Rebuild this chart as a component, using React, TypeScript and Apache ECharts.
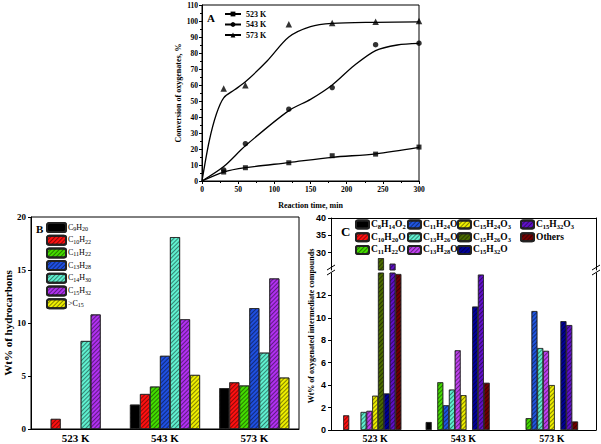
import React, { useEffect, useRef } from "react";
import * as echarts from "echarts";

// ---------- Panel A data ----------
const timePts = [30, 60, 120, 180, 240, 300];
const conv523 = [5.6, 8.3, 11.4, 15.8, 16.8, 21.2];
const conv543 = [6.9, 23.3, 44.9, 58.4, 85.2, 86.1];
const conv573 = [57.8, 59.9, 97.9, 98.8, 99.6, 100];
// fitted curves
const fit523T = [0, 30, 60, 120, 180, 240, 300];
const fit523 = [0, 5.6, 8.3, 11.5, 14.8, 17, 21];
const fit543T = [0, 30, 60, 120, 150, 180, 210, 240, 270, 300];
const fit543 = [0, 9, 22, 44, 51, 60, 72, 81.5, 85, 86];
const fit573T = [0, 10, 20, 30, 45, 60, 90, 120, 150, 180, 240, 300];
const fit573 = [0, 25, 42, 52, 57, 62, 75, 90, 96.5, 98.5, 99.2, 99.5];
const tempNames = ["523 K", "543 K", "573 K"];

// ---------- Panel B data ----------
const categories = ["523 K", "543 K", "573 K"];
const hcNames = ["C9H20", "C10H22", "C11H22", "C13H28", "C14H30", "C15H32", ">C15"];
const hcC9H20 = [0, 2.3, 3.85];
const hcC10H22 = [0.95, 3.3, 4.4];
const hcC11H22 = [0, 4.0, 4.1];
const hcC13H28 = [0, 6.9, 11.4];
const hcC14H30 = [8.3, 18.1, 7.2];
const hcC15H32 = [10.8, 10.35, 14.2];
const hcGtC15 = [0, 5.1, 4.85];
const hcValues = [hcC9H20, hcC10H22, hcC11H22, hcC13H28, hcC14H30, hcC15H32, hcGtC15];
const hcColors = ["#000000", "#ff1010", "#44dd00", "#1f4fe0", "#5ff0d0", "#b030f0", "#eeee00"];
const bTicks = [0, 5, 10, 15, 20];

// ---------- Panel C data ----------
const oxNames = ["C8H14O2", "C10H20O", "C11H22O", "C11H24O", "C13H26O", "C13H28O", "C15H24O3", "C15H26O3", "C15H32O", "C15H32O3", "Others"];
const oxC8H14O2 = [0, 0.7, 0];
const oxC10H20O = [1.3, 0, 0];
const oxC11H22O = [0, 4.25, 1.05];
const oxC11H24O = [0, 2.2, 10.6];
const oxC13H26O = [1.6, 3.6, 7.3];
const oxC13H28O = [1.7, 7.1, 7.05];
const oxC15H24O3 = [3.05, 3.1, 4.0];
const oxC15H26O3 = [28.4, 0, 0];
const oxC15H32O = [3.25, 11.0, 9.7];
const oxC15H32O3 = [26.8, 13.85, 9.35];
const oxOthers = [13.9, 4.2, 0.75];
const oxValues = [oxC8H14O2, oxC10H20O, oxC11H22O, oxC11H24O, oxC13H26O, oxC13H28O, oxC15H24O3, oxC15H26O3, oxC15H32O, oxC15H32O3, oxOthers];
const oxColors = ["#000000", "#ff1010", "#44dd00", "#1f55e0", "#5ff0d0", "#c040f0", "#eeee00", "#4a6a00", "#000099", "#6010c8", "#700000"];
const cTicksLower = [0, 2, 4, 6, 8, 10, 12];
const cTicksUpper = [30, 35, 40];
const cLegendCols = [
  ["C8H14O2", "C10H20O", "C11H22O"],
  ["C11H24O", "C13H26O", "C13H28O"],
  ["C15H24O3", "C15H26O3", "C15H32O"],
  ["C15H32O3", "Others"],
];

const serif = '"Liberation Serif", "Times New Roman", serif';
const sans = '"Liberation Sans", Arial, sans-serif';

function chem(name: string): string {
  if (name === "Others") return "{m|Others}";
  return name.replace(/(\d+)|([^\d]+)/g, (_m: string, d: string, t: string) => (d ? `{s|${d}}` : `{m|${t}}`));
}

const decal = {
  symbol: "rect",
  symbolSize: 1,
  symbolKeepAspect: false,
  color: "rgba(0,0,0,0.45)",
  dashArrayX: [1, 0],
  dashArrayY: [1, 2],
  rotation: -Math.PI / 4,
};

const nz = (v: number) => (v === 0 ? "-" : v);

export default function App() {
  const ref = useRef<HTMLDivElement>(null);
  useEffect(() => {
    document.body.style.margin = "0";
    const chart = echarts.init(ref.current!, undefined, { renderer: "svg" });
    const black = { color: "#000" };

    const fitXs = [fit523T, fit543T, fit573T];
    const fits = [fit523, fit543, fit573];
    const pts = [conv523, conv543, conv573];
    const syms = ["rect", "circle", "triangle"];
    const symSizes = [5, 5.5, 6.5];
    const series: any[] = [];
    tempNames.forEach((n, k) => {
      series.push({
        name: n, type: "line", xAxisIndex: 0, yAxisIndex: 0,
        data: fitXs[k].map((t, i) => [t, fits[k][i]]),
        smooth: 0.3, showSymbol: false,
        symbol: syms[k], symbolSize: symSizes[k],
        lineStyle: { color: "#000", width: 1.3 }, itemStyle: { color: "#000" },
      });
      series.push({
        type: "scatter", xAxisIndex: 0, yAxisIndex: 0,
        data: timePts.map((t, i) => [t, pts[k][i]]),
        symbol: syms[k], symbolSize: symSizes[k], itemStyle: { color: "#000" },
      });
    });
    hcNames.forEach((n, k) => {
      series.push({
        name: n, type: "bar", xAxisIndex: 1, yAxisIndex: 1,
        data: hcValues[k].map(nz), barWidth: 10, barGap: "0%",
        itemStyle: { color: hcColors[k], borderColor: "#222", borderWidth: 0.7, decal },
      });
    });
    const cBar = (axis: number, vals: any[], k: number, name?: string) => ({
      name, type: "bar", xAxisIndex: axis, yAxisIndex: axis, clip: true,
      data: vals, barWidth: 5.8, barGap: "0%",
      itemStyle: { color: oxColors[k], borderColor: "#222", borderWidth: 0.6, decal },
    });
    oxNames.forEach((n, k) => {
      series.push(cBar(3, oxValues[k].map(nz), k, n));
      series.push(cBar(2, oxValues[k].map((v) => (v > 25 ? v : "-")), k, n));
    });
    // two empty slots after the groups (the bar groups sit left of the category centres)
    [2, 3].forEach((ax) => {
      series.push(cBar(ax, ["-", "-", "-"], 0));
      series.push(cBar(ax, ["-", "-", "-"], 0));
    });

    const boldSerif = (size: number) => ({ fontFamily: serif, fontWeight: "bold", fontSize: size, color: "#000" });
    const lineOnly = { show: true, lineStyle: { color: "#000", width: 1 } };

    chart.setOption({
      animation: false,
      grid: [
        { left: 202, top: 5, width: 217, height: 176, show: true, borderColor: "#000", borderWidth: 1 },
        { left: 31, top: 217, width: 268, height: 212, show: true, borderColor: "#000", borderWidth: 1 },
        { left: 331, top: 218, width: 265, height: 52 },
        { left: 331, top: 273, width: 265, height: 157 },
      ],
      xAxis: [
        {
          gridIndex: 0, type: "value", min: 0, max: 300, interval: 50,
          axisLine: lineOnly, axisTick: { show: true, length: 3, lineStyle: black },
          minorTick: { show: true, splitNumber: 2, length: 2, lineStyle: black },
          splitLine: { show: false },
          axisLabel: { ...boldSerif(7.5), margin: 4 },
          name: "Reaction time, min", nameLocation: "middle", nameGap: 20, nameTextStyle: boldSerif(8),
        },
        {
          gridIndex: 1, type: "category", data: categories,
          axisLine: lineOnly, axisTick: { show: false },
          axisLabel: { ...boldSerif(11), margin: 3 },
        },
        {
          gridIndex: 2, type: "category", data: categories, position: "top",
          axisLine: lineOnly, axisTick: { show: false }, axisLabel: { show: false },
        },
        {
          gridIndex: 3, type: "category", data: categories,
          axisLine: lineOnly, axisTick: { show: false },
          axisLabel: { ...boldSerif(10), margin: 3 },
        },
      ],
      yAxis: [
        {
          gridIndex: 0, type: "value", min: 0, max: 110, interval: 10,
          axisLine: lineOnly, axisTick: { show: true, length: 3, lineStyle: black },
          minorTick: { show: true, splitNumber: 2, length: 2, lineStyle: black },
          splitLine: { show: false },
          axisLabel: { ...boldSerif(7.5), margin: 4 },
          name: "Conversion of oxygenates, %", nameLocation: "middle", nameGap: 19, nameTextStyle: boldSerif(8),
        },
        {
          gridIndex: 1, type: "value", min: 0, max: 20, interval: 5,
          axisLine: lineOnly, axisTick: { show: true, length: 3, lineStyle: black, customValues: bTicks },
          splitLine: { show: false },
          axisLabel: { ...boldSerif(9), margin: 5, customValues: bTicks },
          name: "Wt% of hydrocarbons", nameLocation: "middle", nameGap: 16, nameTextStyle: boldSerif(11),
        },
        {
          gridIndex: 2, type: "value", min: 25, max: 40, interval: 5,
          axisLine: lineOnly, axisTick: { show: true, length: 3, lineStyle: black, customValues: cTicksUpper },
          splitLine: { show: false },
          axisLabel: { fontFamily: sans, fontWeight: "bold", fontSize: 9, color: "#000", margin: 5, customValues: cTicksUpper },
        },
        {
          gridIndex: 3, type: "value", min: 0, max: 14, interval: 2,
          axisLine: lineOnly, axisTick: { show: true, length: 3, lineStyle: black, customValues: cTicksLower },
          splitLine: { show: false },
          axisLabel: { fontFamily: sans, fontWeight: "bold", fontSize: 9, color: "#000", margin: 5, customValues: cTicksLower },
        },
        {
          gridIndex: 2, type: "value", min: 25, max: 40, position: "right",
          axisLine: lineOnly, axisTick: { show: false }, axisLabel: { show: false }, splitLine: { show: false },
        },
        {
          gridIndex: 3, type: "value", min: 0, max: 14, position: "right",
          axisLine: lineOnly, axisTick: { show: false }, axisLabel: { show: false }, splitLine: { show: false },
        },
      ],
      legend: [
        {
          data: tempNames, left: 224, top: 10, orient: "vertical", padding: 0,
          itemWidth: 16, itemHeight: 6, itemGap: 2.5,
          textStyle: boldSerif(8),
        },
        {
          data: hcNames, left: 46, top: 222, orient: "vertical", padding: 0,
          itemWidth: 19, itemHeight: 9, itemGap: 1.7,
          formatter: chem,
          textStyle: {
            color: "#000",
            padding: [0, 0, 0, -3],
            rich: {
              m: { fontFamily: serif, fontSize: 8, lineHeight: 9, verticalAlign: "top", color: "#000" },
              s: { fontFamily: serif, fontSize: 6, lineHeight: 4, verticalAlign: "bottom", color: "#000" },
            },
          },
        },
        ...cLegendCols.map((col, i) => ({
          data: col, left: [355, 407, 457, 520][i], top: 219, orient: "vertical", padding: 0,
          itemWidth: 13, itemHeight: 8, itemGap: 1.7,
          formatter: chem,
          textStyle: {
            color: "#000",
            padding: [0, 0, 0, -3],
            rich: {
              m: { fontFamily: serif, fontSize: 9.5, lineHeight: 11, verticalAlign: "top", color: "#000", fontWeight: "bold" },
              s: { fontFamily: serif, fontSize: 6.5, lineHeight: 5, verticalAlign: "bottom", color: "#000", fontWeight: "bold" },
            },
          },
        })),
      ],
      graphic: [
        { type: "text", x: 207, y: 12, style: { text: "A", font: `bold 11px ${serif}`, fill: "#000" } },
        { type: "text", x: 36, y: 223, style: { text: "B", font: `bold 11px ${serif}`, fill: "#000" } },
        { type: "text", x: 341, y: 225, style: { text: "C", font: `bold 13px ${serif}`, fill: "#000" } },
        {
          type: "text", x: 311, y: 326, rotation: Math.PI / 2,
          style: { text: "Wt% of oxygenated intermediate compounds", font: `bold 8px ${serif}`, fill: "#000", align: "center", verticalAlign: "middle" },
        },
        { type: "line", shape: { x1: 327, y1: 270, x2: 335, y2: 265 }, style: { stroke: "#000", lineWidth: 1 } },
        { type: "line", shape: { x1: 327, y1: 275, x2: 335, y2: 270 }, style: { stroke: "#000", lineWidth: 1 } },
        { type: "line", shape: { x1: 592, y1: 270, x2: 600, y2: 265 }, style: { stroke: "#000", lineWidth: 1 } },
        { type: "line", shape: { x1: 592, y1: 275, x2: 600, y2: 270 }, style: { stroke: "#000", lineWidth: 1 } },
      ],
      series,
    });
    return () => chart.dispose();
  }, []);
  return <div ref={ref} style={{ position: "absolute", left: 0, top: 0, width: 601, height: 444 }} />;
}
